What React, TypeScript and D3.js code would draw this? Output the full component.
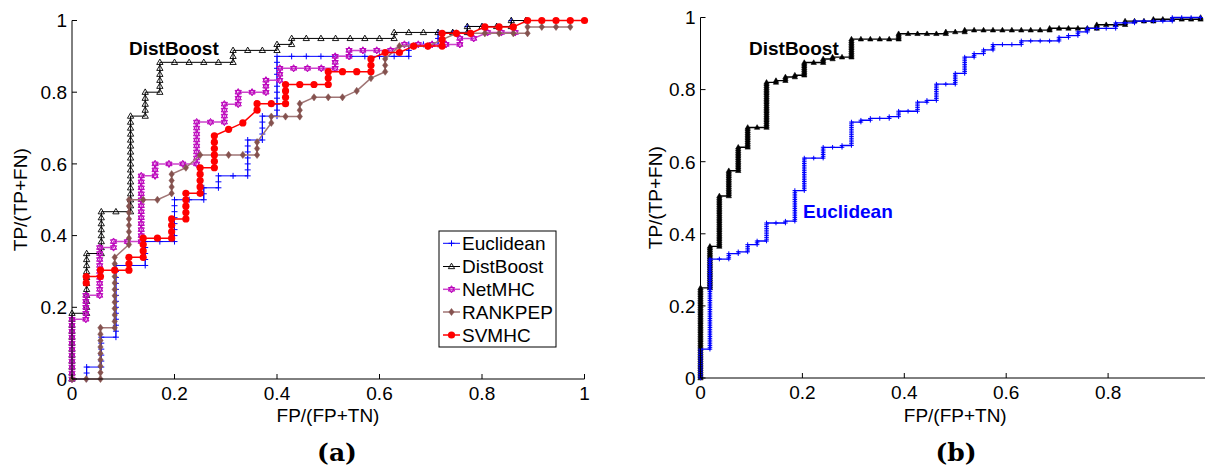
import React from "react";
import * as d3 from "d3";

type Pt = [number, number];

// ---------- Panel (a): ROC curves, corner points as [false positives, true positives] counts ----------
const seriesA = ["Euclidean", "DistBoost", "NetMHC", "RANKPEP", "SVMHC"];
const negativesA = [35, 35, 37, 36, 36];
const positivesA = [60, 60, 60, 56, 56];

const euclideanA: Pt[] = [
  [0, 0], [1, 0], [1, 2], [2, 2], [2, 7], [3, 7], [3, 19], [5, 19], [5, 23], [7, 23], [7, 30], [9, 30],
  [9, 32], [10, 32], [10, 34], [12, 34], [12, 40], [13, 40], [13, 44], [14, 44], [14, 54], [23, 54],
  [23, 56], [25, 56], [25, 58], [27, 58], [27, 59], [30, 59], [30, 60], [31, 60],
];
const distBoostA: Pt[] = [
  [0, 0], [0, 11], [1, 11], [1, 21], [2, 21], [2, 28], [4, 28], [4, 44], [5, 44], [5, 48], [6, 48],
  [6, 53], [11, 53], [11, 55], [14, 55], [14, 56], [15, 56], [15, 57], [22, 57], [22, 58], [27, 58],
  [27, 59], [30, 59], [30, 60], [31, 60],
];
const netMHCA: Pt[] = [
  [0, 0], [0, 10], [1, 10], [1, 14], [2, 14], [2, 22], [3, 22], [3, 23], [5, 23], [5, 34], [6, 34],
  [6, 36], [9, 36], [9, 43], [11, 43], [11, 46], [12, 46], [12, 48], [14, 48], [14, 50], [15, 50],
  [15, 52], [19, 52], [19, 54], [20, 54], [20, 55], [23, 55], [24, 56], [28, 56], [28, 57], [29, 57],
  [30, 58], [32, 58],
];
const rankpepA: Pt[] = [
  [0, 0], [2, 0], [2, 8], [3, 8], [3, 19], [4, 21], [4, 28], [6, 28], [7, 29], [7, 32], [8, 33], [9, 35],
  [13, 35], [13, 37], [14, 40], [14, 41], [16, 41], [16, 43], [17, 44], [19, 44], [20, 45], [21, 47],
  [22, 48], [22, 50], [23, 52], [25, 52], [27, 54], [32, 54], [32, 55], [35, 55],
];
const svmhcA: Pt[] = [
  [1, 15], [1, 16], [2, 16], [2, 17], [4, 17], [4, 19], [5, 19], [5, 22], [7, 22], [7, 25], [8, 25],
  [8, 29], [9, 29], [9, 33], [10, 33], [10, 38], [11, 39], [12, 40], [13, 42], [13, 43], [15, 43],
  [15, 46], [18, 46], [18, 48], [21, 48], [21, 50], [22, 51], [23, 51], [24, 52], [26, 52], [26, 54],
  [28, 54], [29, 55], [31, 55], [32, 56], [36, 56],
];
const cornersA = [euclideanA, distBoostA, netMHCA, rankpepA, svmhcA];

// ---------- Panel (b) ----------
const seriesB = ["DistBoost", "Euclidean"];
const negativesB = 54;
const positivesB = 200;
const distBoostB: Pt[] = [
  [0, 0], [0, 50], [1, 50], [1, 73], [2, 73], [2, 101], [3, 101], [3, 115], [4, 115], [4, 128], [5, 128],
  [5, 139], [7, 139], [7, 164], [8, 164], [8, 165], [9, 165], [9, 167], [10, 167], [10, 168], [11, 168],
  [11, 175], [13, 175], [13, 177], [14, 177], [14, 178], [16, 178], [16, 188], [21, 188], [21, 191],
  [26, 191], [26, 192], [28, 192], [28, 193], [37, 193], [37, 194], [42, 194], [42, 196], [45, 196],
  [45, 198], [48, 198], [48, 199], [53, 199], [53, 200],
];
const euclideanB: Pt[] = [
  [0, 0], [0, 16], [1, 16], [1, 66], [3, 66], [3, 69], [4, 69], [4, 70], [5, 70], [5, 74], [6, 74],
  [6, 76], [7, 76], [7, 86], [9, 86], [9, 87], [10, 87], [10, 104], [11, 104], [11, 122], [13, 122],
  [13, 128], [15, 128], [15, 129], [16, 129], [16, 142], [17, 142], [17, 143], [18, 143], [18, 144],
  [20, 144], [20, 145], [21, 145], [21, 148], [23, 148], [23, 153], [24, 153], [24, 154], [25, 154],
  [25, 163], [27, 163], [27, 169], [28, 169], [28, 178], [29, 178], [29, 180], [30, 180], [30, 182],
  [31, 182], [31, 185], [34, 185], [34, 187], [38, 187], [38, 189], [39, 189], [39, 190], [40, 190],
  [40, 192], [41, 192], [41, 194], [44, 194], [44, 197], [46, 197], [46, 198], [50, 198], [50, 200],
  [53, 200],
];
const cornersB = [distBoostB, euclideanB];

const tickValues = [0, 0.2, 0.4, 0.6, 0.8, 1];
const tickLabels = ["0", "0.2", "0.4", "0.6", "0.8", "1"];
// panel (b) x axis runs past the picture's right edge; its "1" label is not in view
const tickValuesB = [0, 0.2, 0.4, 0.6, 0.8];
const tickLabelsB = ["0", "0.2", "0.4", "0.6", "0.8"];

// Every threshold of a ROC curve is one unit step (one negative or one positive);
// a step in both directions at once is a tie.
function thresholds(corners: Pt[]): Pt[] {
  const out: Pt[] = [corners[0]];
  for (let i = 1; i < corners.length; i++) {
    const [a, b] = corners[i - 1];
    const [c, d] = corners[i];
    if (a !== c && b !== d) {
      out.push([c, d]);
      continue;
    }
    if (a !== c) for (let j = a + 1; j <= c; j++) out.push([j, b]);
    else for (let k = b + 1; k <= d; k++) out.push([a, k]);
  }
  return out;
}

const FONT = "'Liberation Sans', Arial, Helvetica, sans-serif";
const SERIF = "'DejaVu Serif', 'Liberation Serif', serif";

function markerPath(kind: string, s: number): string {
  switch (kind) {
    case "plus":
      return `M${-s},0H${s}M0,${-s}V${s}`;
    case "triangle":
      return `M0,${-s}L${s * 0.95},${s * 0.65}L${-s * 0.95},${s * 0.65}Z`;
    case "diamond":
      return `M0,${-s}L${s * 0.75},0L0,${s}L${-s * 0.75},0Z`;
    case "hexagram":
      return `M0,${-s}L${s * 0.866},${s * 0.5}L${-s * 0.866},${s * 0.5}ZM0,${s}L${s * 0.866},${-s * 0.5}L${-s * 0.866},${-s * 0.5}Z`;
    default:
      return "";
  }
}

type Style = {
  line: string;
  lw: number;
  kind: string;
  size: number;
  fill: string;
  stroke: string;
  sw: number;
};

const stylesA: Style[] = [
  { line: "#0000ff", lw: 1, kind: "plus", size: 3, fill: "none", stroke: "#0000ff", sw: 1 },
  { line: "#000000", lw: 1, kind: "triangle", size: 3.3, fill: "none", stroke: "#000000", sw: 0.9 },
  { line: "#cc44cc", lw: 1.5, kind: "hexagram", size: 3.6, fill: "#e8a8e8", stroke: "#bb00bb", sw: 1 },
  { line: "#a07575", lw: 1.5, kind: "diamond", size: 3.6, fill: "#85524f", stroke: "#85524f", sw: 0.5 },
  { line: "#ff0000", lw: 1.5, kind: "circle", size: 3.6, fill: "#ff0000", stroke: "#ff0000", sw: 0 },
];
const stylesB: Style[] = [
  { line: "#000000", lw: 1.4, kind: "triangle", size: 2.8, fill: "#000000", stroke: "#000000", sw: 0.6 },
  { line: "#0000ff", lw: 1.3, kind: "plus", size: 2.3, fill: "none", stroke: "#0000ff", sw: 1 },
];

function Marker({ st, x, y }: { st: Style; x: number; y: number }) {
  if (st.kind === "circle") return <circle cx={x} cy={y} r={st.size} fill={st.fill} />;
  return (
    <path
      d={markerPath(st.kind, st.size)}
      transform={`translate(${x},${y})`}
      fill={st.fill}
      stroke={st.stroke}
      strokeWidth={st.sw}
    />
  );
}

function Curve({ pts, st, x, y }: { pts: Pt[]; st: Style; x: (v: number) => number; y: (v: number) => number }) {
  const line = d3
    .line<Pt>()
    .x((d) => x(d[0]))
    .y((d) => y(d[1]));
  return (
    <g>
      <path d={line(pts) || ""} fill="none" stroke={st.line} strokeWidth={st.lw} strokeLinejoin="round" />
      {pts.map((p, i) => (
        <Marker key={i} st={st} x={x(p[0])} y={y(p[1])} />
      ))}
    </g>
  );
}

function Axes({
  xs,
  ys,
  xTicks,
  xLabels,
  xEnd,
}: {
  xs: d3.ScaleLinear<number, number>;
  ys: d3.ScaleLinear<number, number>;
  xTicks: number[];
  xLabels: string[];
  xEnd: number;
}) {
  const x0 = xs(0);
  const y0 = ys(0);
  const y1 = ys(1);
  return (
    <g fontFamily={FONT} fontSize={19} fill="#000">
      <line x1={x0} x2={x0} y1={y0} y2={y1} stroke="#000" strokeWidth={1} />
      <line x1={x0} x2={xEnd} y1={y0} y2={y0} stroke="#000" strokeWidth={1} />
      {tickValues.map((v, i) => (
        <g key={"y" + i}>
          <line x1={x0} x2={x0 + 5} y1={ys(v)} y2={ys(v)} stroke="#000" />
          <text x={x0 - 5} y={ys(v)} dy="0.36em" textAnchor="end">
            {tickLabels[i]}
          </text>
        </g>
      ))}
      {xTicks.map((v, i) => (
        <g key={"x" + i}>
          <line x1={xs(v)} x2={xs(v)} y1={y0} y2={y0 - 5} stroke="#000" />
          <text x={xs(v)} y={y0 + 21} textAnchor="middle">
            {xLabels[i]}
          </text>
        </g>
      ))}
    </g>
  );
}

export default function App() {
  // Panel (a) scales
  const xA = d3.scaleLinear().domain([0, 1]).range([72, 584.5]);
  const yA = d3.scaleLinear().domain([0, 1]).range([379, 20.5]);
  // Panel (b) scales
  const xB = d3.scaleLinear().domain([0, 1]).range([700.5, 1210]);
  const yB = d3.scaleLinear().domain([0, 1]).range([378, 17.5]);

  const legendY = [243.3, 266.5, 289.3, 312, 335];

  return (
    <svg
      width={1205}
      height={470}
      style={{ position: "absolute", left: 0, top: 0, background: "#fff" }}
      xmlns="http://www.w3.org/2000/svg"
    >
      <rect x={0} y={0} width={1205} height={470} fill="#fff" />

      {/* ---------------- Panel (a) ---------------- */}
      {cornersA.map((c, i) => {
        const N = negativesA[i];
        const P = positivesA[i];
        const pts = thresholds(c);
        return (
          <Curve
            key={seriesA[i]}
            pts={pts}
            st={stylesA[i]}
            x={(v) => xA(v / N)}
            y={(v) => yA(v / P)}
          />
        );
      })}
      <Axes xs={xA} ys={yA} xTicks={tickValues} xLabels={tickLabels} xEnd={xA(1)} />
      <text x={129} y={55} fontFamily={FONT} fontSize={19} fontWeight="bold" fill="#000">
        DistBoost
      </text>
      <text x={328} y={422} fontFamily={FONT} fontSize={19} textAnchor="middle">
        FP/(FP+TN)
      </text>
      <text
        transform={`translate(20,${(yA(0) + yA(1)) / 2}) rotate(-90)`}
        dy="0.36em"
        fontFamily={FONT}
        fontSize={19}
        textAnchor="middle"
      >
        TP/(TP+FN)
      </text>

      {/* legend */}
      <g fontFamily={FONT} fontSize={19}>
        <rect x={439} y={231} width={117} height={116} fill="#fff" stroke="#000" strokeWidth={1} />
        {seriesA.map((name, i) => (
          <g key={name}>
            <line x1={443} x2={460} y1={legendY[i]} y2={legendY[i]} stroke={stylesA[i].line} strokeWidth={stylesA[i].lw} />
            <Marker st={stylesA[i]} x={451.5} y={legendY[i]} />
            <text x={462} y={legendY[i]} dy="0.36em">
              {name}
            </text>
          </g>
        ))}
      </g>

      <text x={337} y={461} fontFamily={SERIF} fontWeight="bold" fontSize={25} textAnchor="middle">
        (a)
      </text>

      {/* ---------------- Panel (b) ---------------- */}
      {cornersB.map((c, i) => {
        const pts = thresholds(c);
        return (
          <Curve
            key={seriesB[i]}
            pts={pts}
            st={stylesB[i]}
            x={(v) => xB(v / negativesB)}
            y={(v) => yB(v / positivesB)}
          />
        );
      })}
      <Axes xs={xB} ys={yB} xTicks={tickValuesB} xLabels={tickLabelsB} xEnd={xB(1)} />
      <text x={749} y={55} fontFamily={FONT} fontSize={19} fontWeight="bold" fill="#000">
        DistBoost
      </text>
      <text x={803} y={218} fontFamily={FONT} fontSize={19} fontWeight="bold" fill="#0000ff">
        Euclidean
      </text>
      <text x={(xB(0) + xB(1)) / 2} y={422} fontFamily={FONT} fontSize={19} textAnchor="middle">
        FP/(FP+TN)
      </text>
      <text
        transform={`translate(655,${(yB(0) + yB(1)) / 2}) rotate(-90)`}
        dy="0.36em"
        fontFamily={FONT}
        fontSize={19}
        textAnchor="middle"
      >
        TP/(TP+FN)
      </text>
      <text x={956} y={461} fontFamily={SERIF} fontWeight="bold" fontSize={25} textAnchor="middle">
        (b)
      </text>
    </svg>
  );
}
